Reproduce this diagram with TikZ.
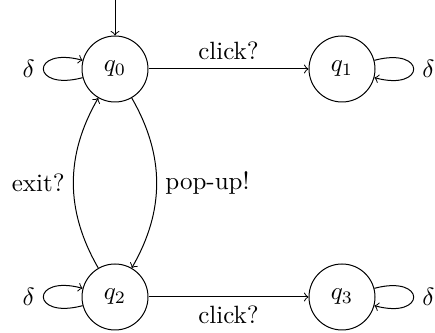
\documentclass[tikz,border=0pt]{standalone}
\usetikzlibrary{automata}
\begin{document}
\begin{tikzpicture}[x=1pt,y=1pt,
  stnode/.style={circle,draw,minimum size=26.4pt,inner sep=0pt},
  edge/.style={->}]
  \useasboundingbox (0,0) rectangle (174,133.2);
  \node[stnode] (q0) at (46,105.6) {$q_0$};
  \node[stnode] (q1) at (136.8,105.6) {$q_1$};
  \node[stnode] (q2) at (46,14.4) {$q_2$};
  \node[stnode] (q3) at (136.8,14.4) {$q_3$};
  \coordinate (init) at (46,133.2);

  % initial state marker
  \draw[edge] (init) -- (q0);

  % transitions
  \draw[edge] (q0) -- node[above] {click?} (q1);
  \draw[edge] (q2) -- node[below] {click?} (q3);
  \draw[edge] (q2) to[bend left=30] node[left] {exit?} (q0);
  \draw[edge] (q0) to[bend left=30] node[right] {pop-up!} (q2);

  % self loops
  \draw[edge] (q0) to[loop left] node[left] {$\delta$} (q0);
  \draw[edge] (q1) to[loop right] node[right] {$\delta$} (q1);
  \draw[edge] (q2) to[loop left] node[left] {$\delta$} (q2);
  \draw[edge] (q3) to[loop right] node[right] {$\delta$} (q3);
\end{tikzpicture}
\end{document}
